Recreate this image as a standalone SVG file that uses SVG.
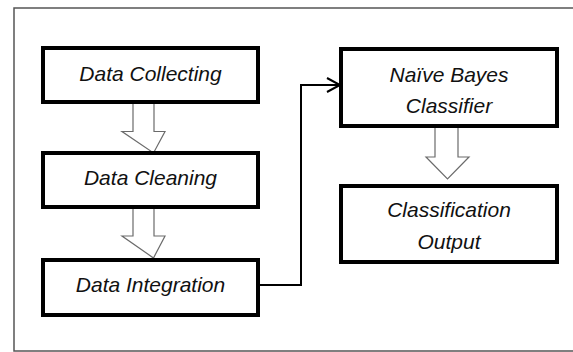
<svg xmlns="http://www.w3.org/2000/svg" width="573" height="352" viewBox="0 0 573 352">
<style>
.box{fill:#fff;stroke:#000;stroke-width:4}
.lbl{font-family:"Liberation Sans",Arial,sans-serif;font-style:italic;font-size:21px;fill:#111;text-anchor:middle}
.hollow{fill:#fff;stroke:#6b6b6b;stroke-width:1.2}
.conn{fill:none;stroke:#000;stroke-width:2}
</style>
<rect x="0" y="0" width="573" height="352" fill="#fff"/>
<rect x="14" y="8" width="570" height="343" fill="none" stroke="#555" stroke-width="1.5"/>
<g id="connectors">
<path class="hollow" d="M133,102 V131.5 H122 L153.5,153 L165,131.5 H154 V102 Z"/>
<path class="hollow" d="M133,207 V236 H122 L153.5,258 L165,236 H154 V207 Z"/>
<path class="hollow" d="M435,126 V157 H426 L447.5,179 L469,157 H458 V126 Z"/>
<path class="conn" d="M258,285 H301 V85 H339"/>
<path class="conn" d="M327,78 L340,85 L327,92"/>
</g>
<g id="n1"><rect class="box" x="43" y="48" width="215" height="54"/><text class="lbl" x="150.5" y="81">Data Collecting</text></g>
<g id="n2"><rect class="box" x="43" y="153" width="215" height="54"/><text class="lbl" x="150.5" y="185">Data Cleaning</text></g>
<g id="n3"><rect class="box" x="43" y="260" width="215" height="55"/><text class="lbl" x="150.5" y="292">Data Integration</text></g>
<g id="n4"><rect class="box" x="341" y="49" width="216" height="77"/><text class="lbl" x="449" y="82">Naïve Bayes</text><text class="lbl" x="449" y="113">Classifier</text></g>
<g id="n5"><rect class="box" x="341" y="186" width="216" height="76"/><text class="lbl" x="449" y="217">Classification</text><text class="lbl" x="449" y="249">Output</text></g>
</svg>
